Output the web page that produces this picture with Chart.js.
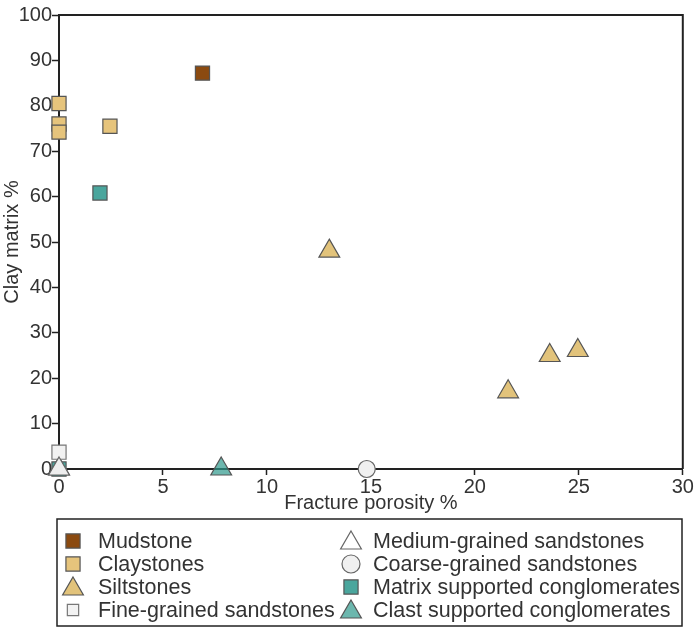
<!DOCTYPE html>
<html>
<head>
<meta charset="utf-8">
<script src="https://cdn.jsdelivr.net/npm/chart.js@4.4.1/dist/chart.umd.min.js"></script>
<style>
  html, body { margin: 0; padding: 0; background: #fff; }
  #wrap { width: 696px; height: 632px; }
</style>
</head>
<body>
<div id="wrap"><canvas id="scatter-chart" width="696" height="632"></canvas></div>
<script>
// values: [fracture porosity %, clay matrix %]
const mudstone = [[6.9, 87.2]];
const claystones = [[0, 80.5], [0, 76], [0, 74.2], [2.45, 75.5]];
const siltstones = [[13, 48], [21.6, 17], [23.6, 25], [24.95, 26.1]];
const fineSand = [[0, 3.7]];
const mediumSand = [[0, 0]];
const coarseSand = [[14.8, 0]];
const matrixCong = [[1.97, 60.8], [0, 0]];
const clastCong = [[7.8, 0], [0, 0]];

const xTicks = [0, 5, 10, 15, 20, 25, 30];
const yTicks = [0, 10, 20, 30, 40, 50, 60, 70, 80, 90, 100];

const FONT = "'Liberation Sans', Arial, sans-serif";
const ink = '#333333';

function pts(arr) { return arr.map(p => ({ x: p[0], y: p[1] })); }

function set(label, data, style, fill, radius, border) {
  return {
    label: label,
    data: pts(data),
    pointStyle: style,
    pointRadius: radius,
    pointHoverRadius: radius,
    backgroundColor: fill,
    borderColor: border || '#555555',
    pointBorderWidth: 1.2,
    clip: false
  };
}

const datasets = [
  set('Medium-grained sandstones', mediumSand, 'triangle', '#eeeeee', 12, '#666666'),
  set('Coarse-grained sandstones', coarseSand, 'circle', '#f0f0f0', 8.5, '#666666'),
  set('Fine-grained sandstones', fineSand, 'rect', '#f2f2f2', 10, '#777777'),
  set('Matrix supported conglomerates', matrixCong, 'rect', 'rgba(42,150,140,0.85)', 10),
  set('Clast supported conglomerates', clastCong, 'triangle', 'rgba(46,152,140,0.7)', 12),
  set('Siltstones', siltstones, 'triangle', '#e2c37b', 12),
  set('Claystones', claystones, 'rect', '#e6c47c', 10),
  set('Mudstone', mudstone, 'rect', '#8b4a10', 10)
];

// legend in two columns, as in the figure
const legendRows = [
  ['Mudstone', 'Medium-grained sandstones'],
  ['Claystones', 'Coarse-grained sandstones'],
  ['Siltstones', 'Matrix supported conglomerates'],
  ['Fine-grained sandstones', 'Clast supported conglomerates']
];

const frameAndLegend = {
  id: 'frameAndLegend',
  afterDatasetsDraw(chart) {
    const c = chart.ctx;
    const a = chart.chartArea;
    c.save();
    c.strokeStyle = '#222222';
    c.lineWidth = 2;
    c.beginPath();
    c.moveTo(a.left, a.top);
    c.lineTo(a.right, a.top);
    c.lineTo(a.right, a.bottom);
    c.stroke();
    c.restore();
  },
  afterDraw(chart) {
    const c = chart.ctx;
    const byLabel = {};
    chart.data.datasets.forEach(d => { byLabel[d.label] = d; });
    c.save();
    c.strokeStyle = '#222222';
    c.lineWidth = 1.5;
    c.strokeRect(57, 519, 625, 107);
    c.font = '21.5px ' + FONT;
    c.textBaseline = 'middle';
    const colMark = [73, 351];
    const colText = [98, 373];
    legendRows.forEach((row, i) => {
      const y = 541 + i * 23;
      row.forEach((name, j) => {
        const d = byLabel[name];
        const isTri = d.pointStyle === 'triangle';
        let r = isTri ? 12 : (d.pointStyle === 'circle' ? 9 : 10);
        if (name === 'Fine-grained sandstones') r = 8;
        c.fillStyle = name === 'Medium-grained sandstones' ? '#ffffff' : d.backgroundColor;
        c.strokeStyle = d.borderColor;
        c.lineWidth = 1.2;
        Chart.helpers.drawPoint(c, { pointStyle: d.pointStyle, radius: r, borderWidth: 1.2, rotation: 0 },
          colMark[j], isTri ? y + 2 : y);
        c.fillStyle = ink;
        c.fillText(name, colText[j], y + 1);
      });
    });
    c.restore();
  }
};

new Chart(document.getElementById('scatter-chart'), {
  type: 'scatter',
  data: { datasets: datasets },
  plugins: [frameAndLegend],
  options: {
    responsive: false,
    animation: false,
    layout: { padding: { top: 15, right: 13, bottom: 117, left: 0 } },
    plugins: {
      legend: { display: false },
      tooltip: { enabled: false }
    },
    scales: {
      x: {
        type: 'linear',
        min: 0,
        max: 30,
        afterBuildTicks: (s) => { s.ticks = xTicks.map(v => ({ value: v })); },
        afterFit: (s) => { s.height = 46; },
        grid: { display: true, drawOnChartArea: false, drawTicks: true, tickLength: 6, tickColor: '#222222', tickWidth: 1.5 },
        border: { display: true, color: '#222222', width: 2 },
        ticks: { color: ink, font: { family: FONT, size: 20 }, padding: 0 },
        title: {
          display: true,
          text: 'Fracture porosity %',
          color: ink,
          font: { family: FONT, size: 20 },
          padding: { top: 0, bottom: 0 }
        }
      },
      y: {
        type: 'linear',
        min: 0,
        max: 100,
        afterBuildTicks: (s) => { s.ticks = yTicks.map(v => ({ value: v })); },
        afterFit: (s) => { s.width = 59; },
        grid: { display: true, drawOnChartArea: false, drawTicks: true, tickLength: 7, tickColor: '#222222', tickWidth: 1.5 },
        border: { display: true, color: '#222222', width: 2 },
        ticks: { color: ink, font: { family: FONT, size: 20 }, padding: 0 },
        title: {
          display: true,
          text: 'Clay matrix %',
          color: ink,
          font: { family: FONT, size: 20 },
          padding: { top: 0, bottom: 5 }
        }
      }
    }
  }
});
</script>
</body>
</html>
